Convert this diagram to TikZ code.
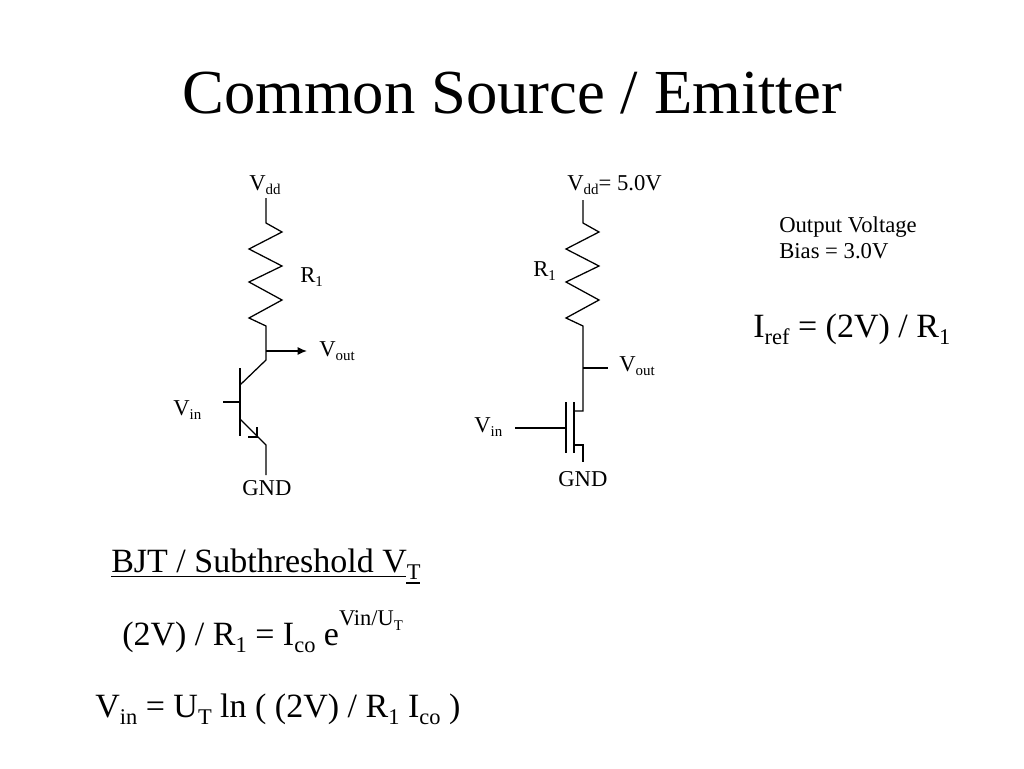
\documentclass[tikz,border=0pt]{standalone}
\usepackage{fontspec}
\usetikzlibrary{arrows.meta}
\setmainfont{Liberation Serif}
\newcommand{\sbs}[1]{\raisebox{-0.22em}{\fontsize{0.66em}{0.66em}\selectfont #1}}
\newcommand{\sps}[1]{\raisebox{0.56em}{\fontsize{0.66em}{0.66em}\selectfont #1}}
\newcommand{\fsz}[1]{\fontsize{#1}{#1}\selectfont}
\tikzset{
  wire/.style={line width=0.95pt,black,line join=miter},
  lab/.style={inner sep=0pt,anchor=base west},
  small/.style={lab,font=\fsz{17pt}},
  big/.style={lab,font=\fsz{25.5pt}},
}
\begin{document}
\begin{tikzpicture}[x=0.75pt,y=-0.75pt]
\useasboundingbox (0,0) rectangle (1024,768);
\fill[white] (0,0) rectangle (1024,768);
\node[lab,font=\fsz{47pt}] (title) at (182,113.5) {Common Source / Emitter};
% BJT stage
\coordinate (bvdd) at (266,198);
\coordinate (bc) at (266,360);
\coordinate (bout) at (307,351);
\coordinate (bon) at (266,351);
\coordinate (bbase) at (223,402);
\coordinate (bbar) at (240,402);
\coordinate (bgnd) at (266,475);
\draw[wire] (bvdd) -- (266,223) -- (282,232) -- (249,249) -- (282,266) -- (249,282) -- (282,300) -- (249,318) -- (266,326) -- (bc) -- (240,385);
\draw[wire] (240,368) -- (240,436);
\draw[wire] (bbase) -- (bbar);
\draw[wire] (240,419) -- (266,445) -- (bgnd);
\draw[wire] (257,427) -- (257,437) -- (248,437);
\draw[wire,-{Latex[length=7pt,width=6pt]}] (bon) -- (bout);
\node[small] (t1) at (249,190) {V\sbs{dd}};
\node[small] (t2) at (300,282) {R\sbs{1}};
\node[small] (t3) at (319,356) {V\sbs{out}};
\node[small] (t4) at (173,415) {V\sbs{in}};
\node[small] (t5) at (242,495) {GND};
% MOS stage
\coordinate (mvdd) at (583,200);
\coordinate (md) at (583,411);
\coordinate (mo) at (583,368);
\coordinate (moe) at (608,368);
\coordinate (mg) at (515,428);
\coordinate (mge) at (566,428);
\coordinate (mgnd) at (583,462);
\draw[wire] (mvdd) -- (583,223) -- (599,232) -- (566,249) -- (599,266) -- (566,282) -- (599,300) -- (566,318) -- (583,326) -- (md) -- (574,411);
\draw[wire] (mo) -- (moe);
\draw[wire] (mg) -- (mge);
\draw[wire] (566,402) -- (566,453);
\draw[wire] (574,402) -- (574,453);
\draw[wire] (574,445) -- (583,445) -- (mgnd);
\node[small] (t6) at (567,190) {V\sbs{dd}= 5.0V};
\node[small] (t7) at (533,276) {R\sbs{1}};
\node[small] (t8) at (619,371) {V\sbs{out}};
\node[small] (t9) at (474,432) {V\sbs{in}};
\node[small] (t10) at (558,486) {GND};
\node[small] (t11) at (779,232) {Output Voltage};
\node[small] (t12) at (779,258.5) {Bias = 3.0V};
\node[big] (t13) at (753,337.5) {I\sbs{ref} = (2V) / R\sbs{1}};
\node[big] (t14) at (111,572.5) {BJT / Subthreshold V\sbs{T}};
\draw[line width=1pt] (111,576.5) -- (406,576.5);
\draw[line width=1pt] (406,583) -- (420,583);
\node[big] (t15) at (122,645) {(2V) / R\sbs{1} = I\sbs{co} e\sps{Vin/U\sbs{T}}};
\node[big] (t16) at (95,717) {V\sbs{in} = U\sbs{T} ln ( (2V) / R\sbs{1} I\sbs{co} )};
\end{tikzpicture}
\end{document}
